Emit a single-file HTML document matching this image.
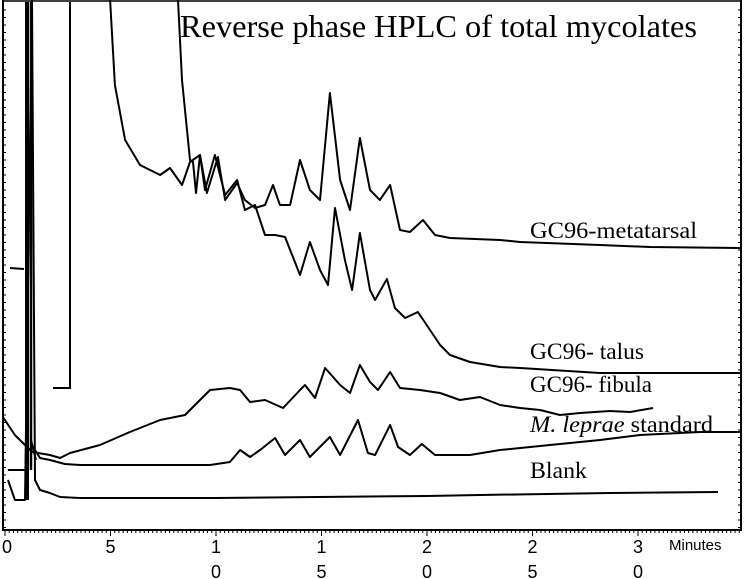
<!DOCTYPE html>
<html><head><meta charset="utf-8"><style>
html,body{margin:0;padding:0;background:#fff;}
svg{display:block;}
.lbl{font-family:"Liberation Serif",serif;fill:#000;}
.tk{font-family:"Liberation Sans",sans-serif;font-size:18px;fill:#000;}
</style></head><body>
<svg id="chart" width="747" height="579" viewBox="0 0 747 579" xmlns="http://www.w3.org/2000/svg">
<g id="frame"></g>
<g id="traces"></g>
<text class="lbl" x="180" y="37" font-size="32" textLength="517" lengthAdjust="spacingAndGlyphs">Reverse phase HPLC of total mycolates</text>
<text class="lbl" x="530" y="238" font-size="23" textLength="167" lengthAdjust="spacingAndGlyphs">GC96-metatarsal</text>
<text class="lbl" x="530" y="359" font-size="23" textLength="114" lengthAdjust="spacingAndGlyphs">GC96- talus</text>
<text class="lbl" x="530" y="392" font-size="23" textLength="122" lengthAdjust="spacingAndGlyphs">GC96- fibula</text>
<text class="lbl" x="530" y="432" font-size="23" textLength="183" lengthAdjust="spacingAndGlyphs"><tspan font-style="italic">M. leprae</tspan> standard</text>
<text class="lbl" x="530" y="478" font-size="23" textLength="57" lengthAdjust="spacingAndGlyphs">Blank</text>
<text class="tk" x="669" y="550" style="font-size:15px">Minutes</text>
</svg>
<script>
// retention time (minutes) and signal (arbitrary units) per trace
const talusT=[4.98,5.21,5.69,6.4,7.35,7.82,8.39,8.77,9.24,9.48,9.95,10.43,11.0,11.37,11.85,12.32,12.8,13.27,13.74,13.98,14.45,14.93,15.31,15.64,16.11,16.45,16.82,17.3,17.54,18.1,18.48,18.96,19.57,20.14,20.62,21.09,22.04,23.46,24.41,28.2,34.83];
const talusS=[530,445,390,365,355,362,345,368,375,340,375,335,350,320,325,295,295,293,268,255,288,260,245,322,270,240,297,240,230,251,222,212,218,200,185,175,168,163,162,157,157];
const metaT=[8.2,8.39,8.77,8.91,9.05,9.24,9.57,10.09,10.43,11.0,11.37,11.85,12.32,12.7,13.03,13.51,13.98,14.45,14.93,15.4,15.88,16.35,16.82,17.3,17.77,18.25,18.72,19.19,19.81,20.38,21.09,23.46,24.41,28.2,30.57,34.83];
const metaS=[530,450,370,368,337,375,337,373,330,347,330,322,325,345,325,325,370,340,330,437,350,320,392,340,330,345,300,298,310,295,292,290,288,285,283,282];
const fibT=[-0.1,0.47,1.28,2.13,2.61,3.08,4.5,5.92,7.35,8.53,9.24,9.72,10.66,11.14,11.61,12.32,13.18,13.98,14.22,14.69,15.17,15.88,16.35,16.82,17.3,17.68,18.25,18.72,19.67,20.62,21.56,22.51,23.46,24.41,25.36,26.3,27.25,28.67,29.62,30.71];
const fibS=[113,95,78,75,72,77,85,98,110,115,130,140,142,140,128,130,122,140,145,132,162,145,137,165,148,140,158,142,140,137,130,133,125,122,120,115,117,119,118,122];
const stdT=[1.28,1.66,2.13,2.84,3.55,5.21,7.35,9.72,10.66,11.14,11.61,12.09,12.8,13.27,13.98,14.45,15.4,15.88,16.73,17.2,17.54,18.25,18.63,19.19,19.76,20.38,22.04,23.46,25.83,28.2,30.09,32.94,34.83];
const stdS=[85,72,70,66,65,65,65,65,68,80,73,80,92,75,90,73,93,75,110,77,75,105,83,75,86,75,75,80,85,90,95,98,98];
const blankT=[0.14,0.47,0.95,1.28,1.42,1.66,2.13,2.61,3.55,10,20,22.51,28.67,33.79];
const blankS=[50,30,30,530,50,40,37,33,32,32,34,35,37,38];

const X0=5,PX=21.1,Y0=530;
function xs(t){return X0+t*PX;}
function ys(s){return Y0-s;}
const NS="http://www.w3.org/2000/svg";
const traces=document.getElementById('traces');
function line(T,S,name){
  const p=document.createElementNS(NS,'polyline');
  p.setAttribute('points',T.map((t,i)=>xs(t).toFixed(1)+','+ys(S[i]).toFixed(1)).join(' '));
  p.setAttribute('fill','none');p.setAttribute('stroke','#000');p.setAttribute('stroke-width','2');
  p.setAttribute('stroke-linejoin','round');
  
  
  traces.appendChild(p);
}
line(talusT,talusS,'trace-talus');
line(metaT,metaS,'trace-metatarsal');
line(fibT,fibS,'trace-fibula');
line(stdT,stdS,'trace-mleprae-standard');
line(blankT,blankS,'trace-blank');
// solvent front artefacts
function seg(pts,name,w){
  const p=document.createElementNS(NS,'polyline');
  p.setAttribute('points',pts);p.setAttribute('fill','none');p.setAttribute('stroke','#000');p.setAttribute('stroke-width',w);
  
  
  traces.appendChild(p);
}
seg('27,500 27,2','solvent-spike',4);
seg('31,2 31,470','solvent-spike-2',2.5);
seg('53,388 70,388 70,2','injection-step',2);
seg('8,470 25,470','blank-offset',2);
seg('10,268 24,269','fibula-offset',2);
seg('31,440 36,460','spike-tail',2);

// frame & ticks
const fr=document.getElementById('frame');
function ln(x1,y1,x2,y2,w,name){
  const l=document.createElementNS(NS,'line');
  l.setAttribute('x1',x1);l.setAttribute('y1',y1);l.setAttribute('x2',x2);l.setAttribute('y2',y2);
  l.setAttribute('stroke','#000');l.setAttribute('stroke-width',w);
  
  
  fr.appendChild(l);
}
ln(3,1,741,1,1.5,'top-border');
ln(3,0,3,531,2,'y-axis-left');
ln(741,0,741,531,2,'y-axis-right');
ln(3,530,741,530,2,'x-axis');
for(let t=0;t<=34.8;t+=0.2){ln(xs(t),530,xs(t),(Math.round(t*5)%25===0)?536:533,1,'x-tick');}
for(let y=10;y<530;y+=7.5){ln(3,y,6,y,1,'y-tick-left');ln(738,y,741,y,1,'y-tick-right');}
const tickVals=[0,5,10,15,20,25,30];
const svg=document.getElementById('chart');
tickVals.forEach(v=>{
  const s=String(v);
  const t1=document.createElementNS(NS,'text');
  t1.setAttribute('class','tk');t1.setAttribute('x',xs(v)+(v===0?2:0));t1.setAttribute('y',553);t1.setAttribute('text-anchor','middle');
  t1.textContent=s[0];
  
  
  svg.appendChild(t1);
  if(s.length>1){
    const t2=document.createElementNS(NS,'text');
    t2.setAttribute('class','tk');t2.setAttribute('x',xs(v));t2.setAttribute('y',578);t2.setAttribute('text-anchor','middle');
    t2.textContent=s[1];
    
    
    svg.appendChild(t2);
  }
});
</script>
</body></html>
